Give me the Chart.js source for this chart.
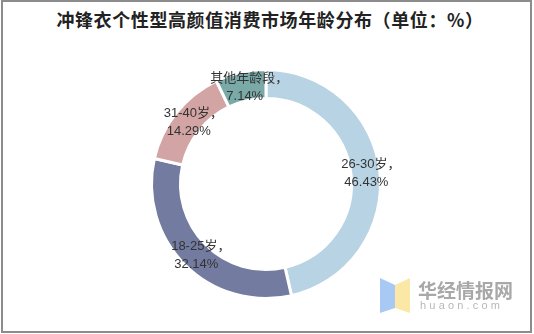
<!DOCTYPE html>
<html>
<head>
<meta charset="utf-8">
<script src="https://cdn.jsdelivr.net/npm/chart.js@4/dist/chart.umd.min.js"></script>
<style>
  html, body { margin: 0; padding: 0; background: #fff; }
  #page { position: relative; width: 534px; height: 334px; overflow: hidden; }
  #frame { position: absolute; left: 1px; top: 0px; width: 527px; height: 329px; border: 2px solid #8c8c8c; }
  #title { position: absolute; left: 0; top: 6px; width: 540px; text-align: center;
           font: bold 18px "Noto Sans CJK SC", sans-serif; color: #222; letter-spacing: 0.6px; }
  #chartBox { position: absolute; left: 0; top: 0; width: 534px; height: 334px; }
  #logoBlue { position: absolute; left: 380px; top: 278px; width: 15px; height: 35px; background: #a9c9f5;
              clip-path: polygon(0 0, 100% 20%, 100% 86%, 0 100%); }
  #logoYellow { position: absolute; left: 395px; top: 278px; width: 15px; height: 35px; background: #fbe8a6;
                clip-path: polygon(0 20%, 100% 0, 100% 100%, 0 86%); }
  #wmName { position: absolute; left: 418px; top: 276px; font: bold 19px "Noto Sans CJK SC", sans-serif; color: #a8a8a8; }
  #wmUrl { position: absolute; left: 420px; top: 299px; font: 11px "Liberation Sans", sans-serif; color: #b8b8b8; letter-spacing: 3.2px; }
</style>
</head>
<body>
<div id="page">
  <div id="frame"></div>
  <div id="title">冲锋衣个性型高颜值消费市场年龄分布（单位：%）</div>
  <div id="chartBox"><canvas id="ageChart"></canvas></div>
  <div id="logoBlue"></div>
  <div id="logoYellow"></div>
  <div id="wmName">华经情报网</div>
  <div id="wmUrl">huaon.com</div>
</div>
<script>
// age groups and their share (%)
const ageGroups = ['26-30岁', '18-25岁', '31-40岁', '其他年龄段'];
const shares = [46.43, 32.14, 14.29, 7.14];

const sliceColors = ['#b8d4e4', '#737ba0', '#d3a4a4', '#7aaaa8'];

// draws "name，" / "value%" in the middle of each ring segment
const ringLabels = {
    id: 'ringLabels',
    afterDatasetsDraw(chart) {
        const ctx = chart.ctx;
        const meta = chart.getDatasetMeta(0);
        ctx.save();
        ctx.font = '13px "Liberation Sans", "Noto Sans CJK SC", sans-serif';
        ctx.fillStyle = '#333';
        ctx.textBaseline = 'middle';
        meta.data.forEach(function (arc, i) {
            const p = arc.tooltipPosition();
            // the full-width comma only has ink on its left side, center on the visible part
            const w = ctx.measureText(ageGroups[i]).width + 4;
            ctx.textAlign = 'left';
            ctx.fillText(ageGroups[i] + '，', p.x - w / 2 + 1, p.y - 8);
            ctx.textAlign = 'center';
            ctx.fillText(shares[i].toFixed(2) + '%', p.x + 1, p.y + 10);
        });
        ctx.restore();
    }
};

new Chart(document.getElementById('ageChart'), {
    type: 'doughnut',
    data: {
        labels: ageGroups,
        datasets: [{
            data: shares,
            backgroundColor: sliceColors,
            borderColor: '#ffffff',
            borderWidth: 3
        }]
    },
    options: {
        responsive: true,
        maintainAspectRatio: false,
        animation: false,
        events: [],
        cutout: '74.7%',
        rotation: 0,
        layout: { padding: { left: 150, top: 68, right: 152, bottom: 34 } },
        plugins: {
            legend: { display: false },
            tooltip: { enabled: false },
            title: { display: false }
        }
    },
    plugins: [ringLabels]
});
</script>
</body>
</html>
